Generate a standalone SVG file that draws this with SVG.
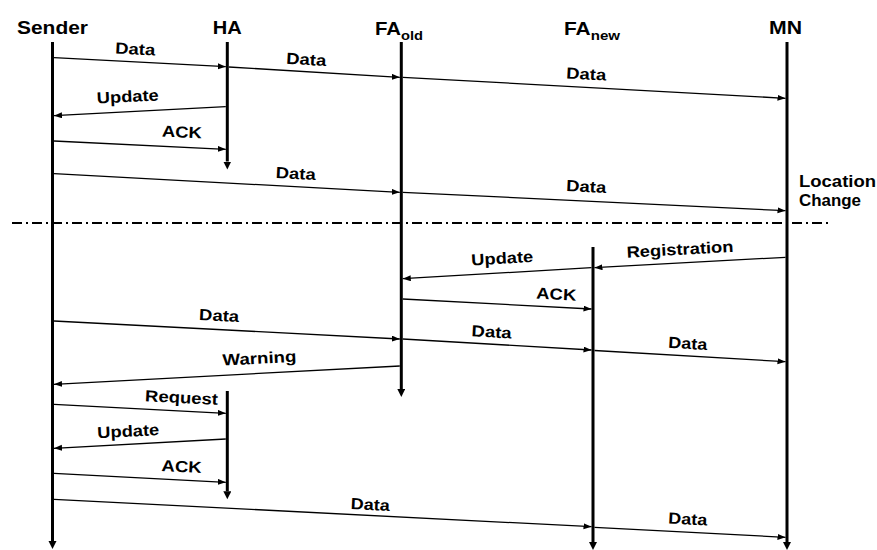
<svg xmlns="http://www.w3.org/2000/svg" width="877" height="550" viewBox="0 0 877 550">
<style>
.hd{font-family:"Liberation Sans",Arial,sans-serif;font-weight:bold;font-size:18px;fill:#000}
.lb{font-family:"Liberation Sans",Arial,sans-serif;font-weight:bold;font-size:16px;fill:#000;text-anchor:middle}
.nt{font-family:"Liberation Sans",Arial,sans-serif;font-weight:bold;font-size:16px;fill:#000}
.life{stroke:#000;stroke-width:3;fill:none}
.msg{stroke:#000;stroke-width:1.3;fill:none;marker-end:url(#ah)}
.div{stroke:#000;stroke-width:2;stroke-dasharray:10 4 2 4;fill:none}
</style>
<defs>
<marker id="ah" markerUnits="userSpaceOnUse" markerWidth="9" markerHeight="7" refX="8" refY="3" orient="auto"><path d="M0,0 L8,3 L0,6 z" fill="#000"/></marker>
<marker id="lh" markerUnits="userSpaceOnUse" markerWidth="9" markerHeight="9" refX="0" refY="4" orient="auto"><path d="M0,0 L8,4 L0,8 z" fill="#000"/></marker>
</defs>
<g id="sender">
<text class="hd" x="52.5" y="34" text-anchor="middle" textLength="71" lengthAdjust="spacingAndGlyphs">Sender</text>
<line class="life" x1="52.5" y1="42" x2="52.5" y2="541" marker-end="url(#lh)"/>
</g>
<g id="ha">
<text class="hd" x="227.3" y="34" text-anchor="middle" textLength="29" lengthAdjust="spacingAndGlyphs">HA</text>
<line class="life" x1="227.3" y1="42" x2="227.3" y2="161.5" marker-end="url(#lh)"/>
<line class="life" x1="227.3" y1="391" x2="227.3" y2="491.3" marker-end="url(#lh)"/>
</g>
<g id="fa_old">
<text class="hd" x="375" y="35" textLength="48" lengthAdjust="spacingAndGlyphs">FA<tspan dy="4.5" font-size="13">old</tspan></text>
<line class="life" x1="401.3" y1="42" x2="401.3" y2="389" marker-end="url(#lh)"/>
</g>
<g id="fa_new">
<text class="hd" x="564" y="35" textLength="56" lengthAdjust="spacingAndGlyphs">FA<tspan dy="4.5" font-size="13">new</tspan></text>
<line class="life" x1="593" y1="247" x2="593" y2="542" marker-end="url(#lh)"/>
</g>
<g id="mn">
<text class="hd" x="785.5" y="34" text-anchor="middle" textLength="33" lengthAdjust="spacingAndGlyphs">MN</text>
<line class="life" x1="787" y1="42" x2="787" y2="542" marker-end="url(#lh)"/>
<text class="nt" x="799" y="187" textLength="77" lengthAdjust="spacingAndGlyphs">Location</text>
<text class="nt" x="799" y="206" textLength="62" lengthAdjust="spacingAndGlyphs">Change</text>
</g>
<g id="divider">
<line class="div" x1="12" y1="223" x2="828" y2="223"/>
</g>
<g id="connectors">
<line class="msg" x1="54" y1="57.7" x2="225.8" y2="66.7"/>
<line class="msg" x1="228.8" y1="67" x2="399.8" y2="77.3"/>
<line class="msg" x1="402.8" y1="77.3" x2="785.5" y2="98.3"/>
<line class="msg" x1="225.8" y1="106.7" x2="54" y2="115.7"/>
<line class="msg" x1="54" y1="141" x2="225.8" y2="149.3"/>
<line class="msg" x1="54" y1="173.7" x2="399.8" y2="192.3"/>
<line class="msg" x1="402.8" y1="192.3" x2="785.5" y2="210.7"/>
<line class="msg" x1="785.5" y1="257.3" x2="594.5" y2="267.7"/>
<line class="msg" x1="591.5" y1="267.7" x2="402.8" y2="278.7"/>
<line class="msg" x1="402.8" y1="299" x2="591.5" y2="309"/>
<line class="msg" x1="54" y1="321" x2="399.8" y2="339"/>
<line class="msg" x1="402.8" y1="339" x2="591.5" y2="350"/>
<line class="msg" x1="594.5" y1="350.5" x2="785.5" y2="361.7"/>
<line class="msg" x1="399.8" y1="366" x2="54" y2="384.3"/>
<line class="msg" x1="54" y1="404.3" x2="225.8" y2="413.3"/>
<line class="msg" x1="225.8" y1="439" x2="54" y2="448.3"/>
<line class="msg" x1="54" y1="473.3" x2="225.8" y2="482.3"/>
<line class="msg" x1="54" y1="499.3" x2="591.5" y2="526.7"/>
<line class="msg" x1="594.5" y1="527.3" x2="785.5" y2="537.3"/>
</g>
<g id="labels">
<text class="lb" x="135" y="54.5" transform="rotate(2.94 135 54.5)" textLength="40" lengthAdjust="spacingAndGlyphs">Data</text>
<text class="lb" x="306" y="65" transform="rotate(3.39 306 65)" textLength="40" lengthAdjust="spacingAndGlyphs">Data</text>
<text class="lb" x="586" y="79.5" transform="rotate(3.11 586 79.5)" textLength="40" lengthAdjust="spacingAndGlyphs">Data</text>
<text class="lb" x="128" y="102" transform="rotate(-2.94 128 102)" textLength="62" lengthAdjust="spacingAndGlyphs">Update</text>
<text class="lb" x="181.7" y="137.5" transform="rotate(2.7 181.7 137.5)" textLength="40" lengthAdjust="spacingAndGlyphs">ACK</text>
<text class="lb" x="295.5" y="179" transform="rotate(3.05 295.5 179)" textLength="40" lengthAdjust="spacingAndGlyphs">Data</text>
<text class="lb" x="586" y="192" transform="rotate(2.73 586 192)" textLength="40" lengthAdjust="spacingAndGlyphs">Data</text>
<text class="lb" x="680.3" y="254.8" transform="rotate(-3.13 680.3 254.8)" textLength="107" lengthAdjust="spacingAndGlyphs">Registration</text>
<text class="lb" x="502.5" y="263.7" transform="rotate(-3.28 502.5 263.7)" textLength="62" lengthAdjust="spacingAndGlyphs">Update</text>
<text class="lb" x="556" y="299.7" transform="rotate(3.09 556 299.7)" textLength="40" lengthAdjust="spacingAndGlyphs">ACK</text>
<text class="lb" x="218.8" y="321" transform="rotate(2.98 218.8 321)" textLength="40" lengthAdjust="spacingAndGlyphs">Data</text>
<text class="lb" x="491.3" y="337.5" transform="rotate(3.3 491.3 337.5)" textLength="40" lengthAdjust="spacingAndGlyphs">Data</text>
<text class="lb" x="687.5" y="349" transform="rotate(3.48 687.5 349)" textLength="39" lengthAdjust="spacingAndGlyphs">Data</text>
<text class="lb" x="259.7" y="363.7" transform="rotate(-3 259.7 363.7)" textLength="74" lengthAdjust="spacingAndGlyphs">Warning</text>
<text class="lb" x="181.3" y="403" transform="rotate(2.94 181.3 403)" textLength="73" lengthAdjust="spacingAndGlyphs">Request</text>
<text class="lb" x="128.5" y="436.7" transform="rotate(-3 128.5 436.7)" textLength="62" lengthAdjust="spacingAndGlyphs">Update</text>
<text class="lb" x="181.3" y="472" transform="rotate(2.94 181.3 472)" textLength="40" lengthAdjust="spacingAndGlyphs">ACK</text>
<text class="lb" x="370" y="510" transform="rotate(2.9 370 510)" textLength="39" lengthAdjust="spacingAndGlyphs">Data</text>
<text class="lb" x="687.5" y="524.5" transform="rotate(3 687.5 524.5)" textLength="39" lengthAdjust="spacingAndGlyphs">Data</text>
</g>
</svg>
